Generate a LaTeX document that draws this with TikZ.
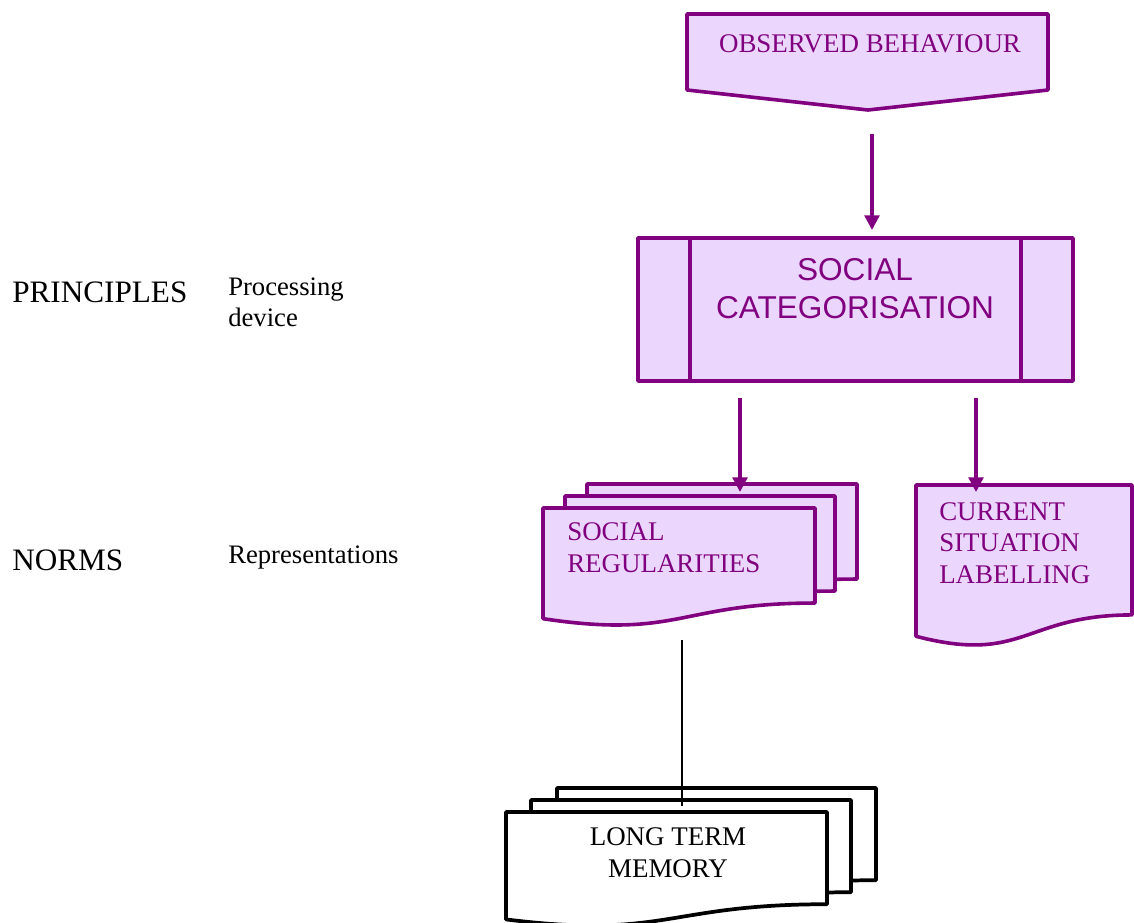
\documentclass[tikz,border=0pt]{standalone}
\usepackage{fontspec}
\setmainfont{Liberation Serif}
\newfontfamily\arialfont{Liberation Sans}
\usetikzlibrary{arrows.meta}

\definecolor{plum}{RGB}{128,0,128}
\definecolor{lilac}{RGB}{235,215,254}

% page with a wavy bottom edge: [style]{left}{top}{width}{height}
\newcommand{\docshape}[5][]{%
  \draw[#1] (#2,#3) -- ({#2+#4},#3) -- ({#2+#4},{#3+0.802*#5})
    .. controls ({#2+0.5*#4},{#3+0.802*#5}) and ({#2+0.5*#4},{#3+1.1075*#5})
    .. (#2,{#3+0.934*#5}) -- cycle;}

\begin{document}
\begin{tikzpicture}[x=0.75pt,y=-0.75pt,>={Triangle[length=11pt,width=11pt]},
    shapeline/.style={draw=plum,fill=lilac,line width=2.7pt,line join=round},
    memline/.style={draw=black,fill=white,line width=2.8pt,line join=round},
    flow/.style={->,draw=plum,fill=plum,line width=2.6pt},
    boxtext/.style={inner sep=0pt,text=plum,font=\fontsize{20.2}{23.3}\selectfont},
    sidetext/.style={inner sep=0pt,anchor=base west,align=left}]

  \useasboundingbox (0,0) rectangle (1134,923);

  % observed behaviour (off-page connector)
  \draw[shapeline] (687,14) -- (1048,14) -- (1048,90) -- (868,110) -- (687,90) -- cycle;
  \node[boxtext,anchor=base] (obs) at (870,53) {OBSERVED BEHAVIOUR};

  % social categorisation (predefined process)
  \draw[shapeline] (638,238) rectangle (1073,381);
  \draw[shapeline] (690,238) -- (690,381) (1021,238) -- (1021,381);
  \node[boxtext,anchor=base,align=center,
        font=\arialfont\fontsize{23.7}{28.5}\selectfont] (cat) at (855,319)
        {SOCIAL\\CATEGORISATION};

  % social regularities (three pages)
  \docshape[shapeline]{587}{484}{270}{118.5}
  \docshape[shapeline]{565}{496}{270}{118.5}
  \docshape[shapeline]{543}{508}{272}{118.5}
  \node[boxtext,anchor=base west,align=left] (reg) at (567,572)
        {SOCIAL\\REGULARITIES};

  % current situation labelling
  \docshape[shapeline]{916}{485}{216}{162}
  \node[boxtext,anchor=base west,align=left] (lab) at (939,583)
        {CURRENT\\SITUATION\\LABELLING};

  % long term memory (three pages)
  \docshape[memline]{557}{788}{319}{115}
  \docshape[memline]{531}{800}{320}{115}
  \docshape[memline]{506}{812}{321}{115}
  \coordinate (memin) at (682,806);
  \coordinate (regout) at (682,640);
  \draw[line width=1.1pt] (regout) -- (memin);
  \node[boxtext,text=black,anchor=base,align=center] (mem) at (668,877)
        {LONG TERM\\MEMORY};

  % arrows
  \coordinate (obsout) at (872,134);
  \coordinate (catin)  at (872,230);
  \coordinate (catl)   at (740,398);
  \coordinate (regin)  at (740,492);
  \coordinate (catr)   at (976,398);
  \coordinate (labin)  at (976,492);
  \draw[flow] (obsout) -- (catin);
  \draw[flow] (catl) -- (regin);
  \draw[flow] (catr) -- (labin);

  % side labels
  \node[sidetext,font=\fontsize{23.4}{28}\selectfont] (prin) at (12,303) {PRINCIPLES};
  \node[sidetext,font=\fontsize{20}{23.3}\selectfont] (proc) at (228,327) {Processing\\device};
  \node[sidetext,font=\fontsize{23.4}{28}\selectfont] (norm) at (12,570) {NORMS};
  \node[sidetext,font=\fontsize{20}{23.3}\selectfont] (repr) at (228,563) {Representations};
\end{tikzpicture}
\end{document}
